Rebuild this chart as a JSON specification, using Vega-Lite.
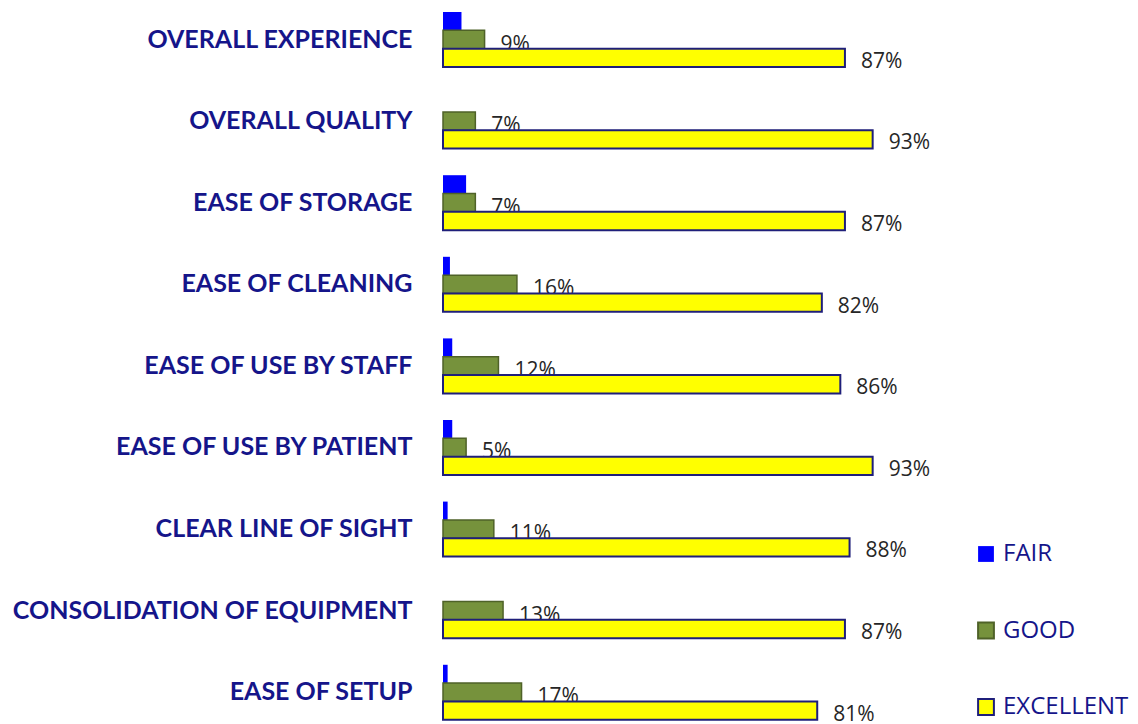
{
  "$schema": "https://vega.github.io/schema/vega-lite/v6.json",
  "autosize": {"type": "none"},
  "padding": {"left": 443, "top": 0, "right": 233, "bottom": 0},
  "width": 462,
  "height": 724,
  "background": "white",
  "config": {"view": {"stroke": null}},
  "data": {"values": [
    {"category": "OVERALL EXPERIENCE", "series": "FAIR", "value": 0.04},
    {"category": "OVERALL EXPERIENCE", "series": "GOOD", "value": 0.09},
    {"category": "OVERALL EXPERIENCE", "series": "EXCELLENT", "value": 0.87},
    {"category": "OVERALL QUALITY", "series": "FAIR", "value": 0},
    {"category": "OVERALL QUALITY", "series": "GOOD", "value": 0.07},
    {"category": "OVERALL QUALITY", "series": "EXCELLENT", "value": 0.93},
    {"category": "EASE OF STORAGE", "series": "FAIR", "value": 0.05},
    {"category": "EASE OF STORAGE", "series": "GOOD", "value": 0.07},
    {"category": "EASE OF STORAGE", "series": "EXCELLENT", "value": 0.87},
    {"category": "EASE OF CLEANING", "series": "FAIR", "value": 0.015},
    {"category": "EASE OF CLEANING", "series": "GOOD", "value": 0.16},
    {"category": "EASE OF CLEANING", "series": "EXCELLENT", "value": 0.82},
    {"category": "EASE OF USE BY STAFF", "series": "FAIR", "value": 0.02},
    {"category": "EASE OF USE BY STAFF", "series": "GOOD", "value": 0.12},
    {"category": "EASE OF USE BY STAFF", "series": "EXCELLENT", "value": 0.86},
    {"category": "EASE OF USE BY PATIENT", "series": "FAIR", "value": 0.02},
    {"category": "EASE OF USE BY PATIENT", "series": "GOOD", "value": 0.05},
    {"category": "EASE OF USE BY PATIENT", "series": "EXCELLENT", "value": 0.93},
    {"category": "CLEAR LINE OF SIGHT", "series": "FAIR", "value": 0.01},
    {"category": "CLEAR LINE OF SIGHT", "series": "GOOD", "value": 0.11},
    {"category": "CLEAR LINE OF SIGHT", "series": "EXCELLENT", "value": 0.88},
    {"category": "CONSOLIDATION OF EQUIPMENT", "series": "FAIR", "value": 0},
    {"category": "CONSOLIDATION OF EQUIPMENT", "series": "GOOD", "value": 0.13},
    {"category": "CONSOLIDATION OF EQUIPMENT", "series": "EXCELLENT", "value": 0.87},
    {"category": "EASE OF SETUP", "series": "FAIR", "value": 0.01},
    {"category": "EASE OF SETUP", "series": "GOOD", "value": 0.17},
    {"category": "EASE OF SETUP", "series": "EXCELLENT", "value": 0.81}
  ]},
  "encoding": {
    "y": {
      "field": "category", "type": "nominal", "sort": null,
      "scale": {"paddingInner": 0.326, "paddingOuter": 0.0995, "align": 0.74, "round": false},
      "axis": {"title": null, "domain": false, "ticks": false, "labelPadding": 31,
        "labelFont": "Lato", "labelFontWeight": "bold", "labelFontSize": 25, "labelColor": "#15158A", "labelLimit": 500}
    },
    "x": {"field": "value", "type": "quantitative", "scale": {"domain": [0, 1], "nice": false}, "axis": null},
    "yOffset": {"field": "series", "type": "nominal", "scale": {"domain": ["FAIR", "GOOD", "EXCELLENT"], "paddingInner": 0, "paddingOuter": 0}}
  },
  "layer": [
    {
      "transform": [{"filter": "datum.series !== 'EXCELLENT'"}],
      "mark": {"type": "bar", "strokeWidth": 1.5},
      "encoding": {
        "color": {"field": "series", "type": "nominal",
          "scale": {"domain": ["FAIR", "GOOD", "EXCELLENT"], "range": ["#0000FF", "#76923C", "#FFFF00"]},
          "legend": {"title": null, "orient": "none", "legendX": 531, "legendY": 542, "symbolType": "square", "symbolSize": 250, "symbolStrokeWidth": 2, "symbolOpacity": 1,
            "labelFont": "Open Sans", "labelFontSize": 24, "labelColor": "#15158A", "labelOffset": 5, "rowPadding": 52.5}},
        "stroke": {"field": "series", "type": "nominal",
          "scale": {"domain": ["FAIR", "GOOD", "EXCELLENT"], "range": ["transparent", "#4F6228", "#1F1F7A"]},
          "legend": {"title": null, "orient": "none", "legendX": 531, "legendY": 542, "symbolType": "square", "symbolSize": 250, "symbolStrokeWidth": 2,
            "labelFont": "Open Sans", "labelFontSize": 24, "labelColor": "#15158A", "labelOffset": 5, "rowPadding": 52.5}}
      }
    },
    {
      "transform": [{"filter": "datum.series === 'GOOD'"}],
      "mark": {"type": "text", "align": "left", "baseline": "middle", "dx": 16, "dy": 5, "font": "Open Sans", "fontSize": 21, "color": "#262626"},
      "encoding": {"text": {"field": "value", "type": "quantitative", "format": ".0%"}}
    },
    {
      "transform": [{"filter": "datum.series === 'EXCELLENT'"}],
      "mark": {"type": "bar", "strokeWidth": 2},
      "encoding": {
        "color": {"field": "series", "type": "nominal"},
        "stroke": {"field": "series", "type": "nominal"}
      }
    },
    {
      "transform": [{"filter": "datum.series === 'EXCELLENT'"}],
      "mark": {"type": "text", "align": "left", "baseline": "middle", "dx": 16, "dy": 4, "font": "Open Sans", "fontSize": 21, "color": "#262626"},
      "encoding": {"text": {"field": "value", "type": "quantitative", "format": ".0%"}}
    }
  ]
}
